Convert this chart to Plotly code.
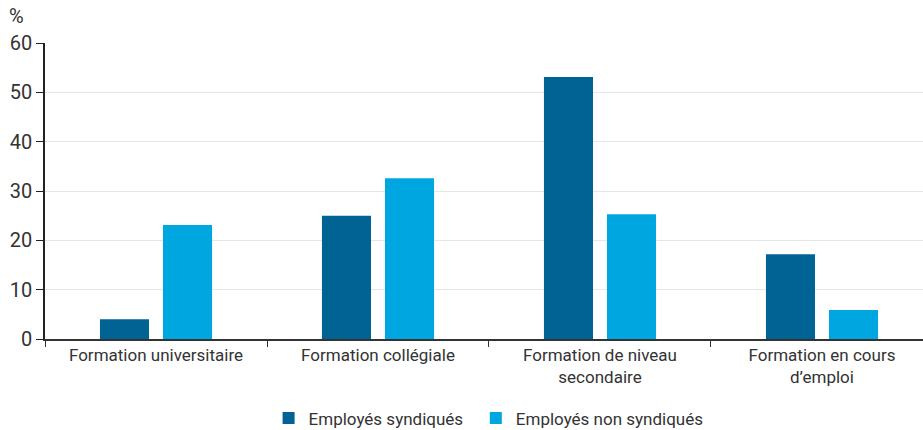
import plotly.graph_objects as go

categories = [
    "Formation universitaire",
    "Formation collégiale",
    "Formation de niveau<br>secondaire",
    "Formation en cours<br>d’emploi",
]
syndiques = [4.0, 25.0, 53.1, 17.2]
non_syndiques = [23.1, 32.6, 25.3, 5.9]
y_ticks = [0, 10, 20, 30, 40, 50, 60]

FONT = "Roboto, sans-serif"
TEXT = "#333333"

fig = go.Figure()
fig.add_trace(go.Bar(x=categories, y=syndiques, name="Employés syndiqués",
                     marker=dict(color="#006394", line=dict(width=0)),
                     legend="legend"))
fig.add_trace(go.Bar(x=categories, y=non_syndiques, name="Employés non syndiqués",
                     marker=dict(color="#00a6df", line=dict(width=0)),
                     legend="legend2"))

legend_style = dict(orientation="h", xanchor="left", yref="container",
                    xref="container", y=0.027, yanchor="middle",
                    font=dict(family=FONT, size=17, color=TEXT), itemwidth=30,
                    bgcolor="rgba(0,0,0,0)")

fig.update_layout(
    width=923, height=430,
    margin=dict(l=45, r=0, t=43, b=91),
    paper_bgcolor="white", plot_bgcolor="white",
    barmode="group", bargap=0.432, bargroupgap=0.222,
    font=dict(family=FONT, size=17, color=TEXT),
    showlegend=True,
    legend=dict(x=0.291, **legend_style),
    legend2=dict(x=0.5155, **legend_style),
    xaxis=dict(
        range=[-0.5, 3.455],
        tickson="boundaries", ticks="outside", ticklen=6, tickcolor="#333333",
        showline=True, linecolor="#333333", linewidth=1.5,
        showgrid=False, tickfont=dict(family=FONT, size=17, color=TEXT),
    ),
    yaxis=dict(
        range=[0, 60], tickvals=y_ticks, ticks="outside", ticklen=7,
        tickcolor="#222222", showline=True, linecolor="#222222", linewidth=1.5,
        showgrid=True, gridcolor="#e6e6e6", gridwidth=1, zeroline=False,
        tickfont=dict(family=FONT, size=20, color=TEXT),
    ),
)
fig.add_annotation(text="%", xref="paper", yref="paper", x=-0.033, y=1.045,
                   xanchor="center", yanchor="bottom", showarrow=False,
                   font=dict(family=FONT, size=20, color=TEXT))

fig.write_html("out.html")
